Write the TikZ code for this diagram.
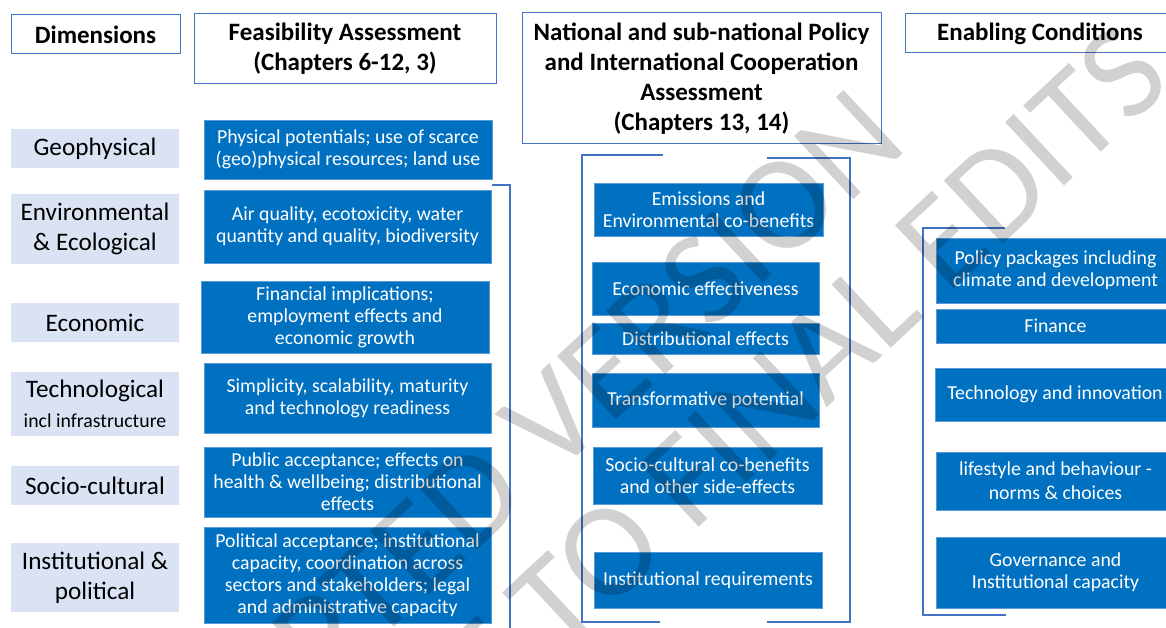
\documentclass[tikz,border=0pt]{standalone}
\usepackage{fontspec}
\setmainfont{Carlito}
\definecolor{boxblue}{RGB}{0,112,192}
\definecolor{boxedge}{RGB}{91,155,213}
\definecolor{hdrblue}{RGB}{68,114,196}
\definecolor{dimfill}{RGB}{218,227,243}
\tikzset{
  hdr/.style={draw=hdrblue, line width=1pt, fill=white, inner sep=0pt, align=center,
    font=\bfseries\fontsize{25}{30}\selectfont},
  dim/.style={fill=dimfill, inner sep=0pt, align=center, font=\fontsize{25.2}{30}\selectfont},
  bbox/.style={fill=boxblue, draw=boxedge, line width=0.8pt, text=white, inner sep=0pt,
    align=center, font=\fontsize{19.8}{22}\selectfont},
  brk/.style={draw=hdrblue, line width=2pt},
  wmark/.style={text=black, text opacity=0.18, inner sep=0pt, font=\fontsize{135}{160}\selectfont}
}
\begin{document}
\begin{tikzpicture}[x=1pt,y=-1pt]
\useasboundingbox (0,0) rectangle (1166,628);
\clip (0,0) rectangle (1166,628);
% headers
\node[hdr, minimum width=169, minimum height=39] (hDim) at (95.5,34.5) {Dimensions};
\node[hdr, minimum width=302, minimum height=70] (hFeas) at (345,49) {Feasibility Assessment\\(Chapters 6-12, 3)};
\node[hdr, minimum width=359, minimum height=131] (hNat) at (701.5,78.5) {National and sub-national Policy\\and International Cooperation\\Assessment\\(Chapters 13, 14)};
\node[hdr, minimum width=270, minimum height=39] (hEnab) at (1040,33.5) {Enabling Conditions};
% dimensions
\node[dim, minimum width=168, minimum height=39] (dGeo) at (95,148.5) {Geophysical};
\node[dim, minimum width=168, minimum height=69] (dEnv) at (95,229) {Environmental\\\& Ecological};
\node[dim, minimum width=168, minimum height=39] (dEco) at (95,322.5) {Economic};
\node[dim, minimum width=168, minimum height=64] (dTec) at (95,404) {Technological\\{\fontsize{19.8}{22}\selectfont incl infrastructure}};
\node[dim, minimum width=168, minimum height=39] (dSoc) at (95,485.5) {Socio-cultural};
\node[dim, minimum width=168, minimum height=69] (dIns) at (95,577.5) {Institutional \&\\political};
% feasibility boxes
\node[bbox, minimum width=288, minimum height=59] (f1) at (348,149.5) {Physical potentials; use of scarce\\(geo)physical resources; land use};
\node[bbox, minimum width=287, minimum height=73] (f2) at (347.5,226.5) {Air quality, ecotoxicity, water\\quantity and quality, biodiversity};
\node[bbox, minimum width=288, minimum height=72] (f3) at (345,317) {Financial implications;\\employment effects and\\economic growth};
\node[bbox, minimum width=287, minimum height=70] (f4) at (347.5,398) {Simplicity, scalability, maturity\\and technology readiness};
\node[bbox, minimum width=287, minimum height=70] (f5) at (347.5,482) {Public acceptance; effects on\\health \& wellbeing; distributional\\effects};
\node[bbox, minimum width=287, minimum height=96] (f6) at (347.5,575) {Political acceptance; institutional\\capacity, coordination across\\sectors and stakeholders; legal\\and administrative capacity};
% middle boxes
\node[bbox, minimum width=229, minimum height=53] (m1) at (708.5,209.5) {Emissions and\\Environmental co-benefits};
\node[bbox, minimum width=227, minimum height=53] (m2) at (705.5,288.5) {Economic effectiveness};
\node[bbox, minimum width=227, minimum height=31] (m3) at (705.5,338.5) {Distributional effects};
\node[bbox, minimum width=227, minimum height=54] (m4) at (705.5,400) {Transformative potential};
\node[bbox, minimum width=229, minimum height=57] (m5) at (707.5,475.5) {Socio-cultural co-benefits\\and other side-effects};
\node[bbox, minimum width=228, minimum height=56] (m6) at (708,580) {Institutional requirements};
% enabling boxes
\node[bbox, minimum width=239, minimum height=65] (e1) at (1055.5,270.5) {Policy packages including\\climate and development};
\node[bbox, minimum width=239, minimum height=34] (e2) at (1055.5,326) {Finance};
\node[bbox, minimum width=240, minimum height=53] (e3) at (1055,394.5) {Technology and innovation};
\node[bbox, minimum width=239, minimum height=58] (e4) at (1055.5,481) {lifestyle and behaviour -\\[2pt]norms \& choices};
\node[bbox, minimum width=239, minimum height=71] (e5) at (1055.5,572.5) {Governance and\\Institutional capacity};
% brackets
\draw[brk] (492,185) -- (510,185) -- (510,640);
\draw[brk] (663,155) -- (582,155) -- (582,622) -- (660,622);
\draw[brk] (767,158) -- (850,158) -- (850,622) -- (767,622);
\draw[brk] (1005,228) -- (923,228) -- (923,615) -- (1006,615);
% watermark
\begin{scope}[shift={(114,889)}, rotate=43, transform shape]
\node[wmark, anchor=base west] (wm1) at (0,0) {ACCEPTED VERSION};
\end{scope}
\begin{scope}[shift={(195.5,997)}, rotate=43, transform shape]
\node[wmark, anchor=base west] (wm2) at (0,0) {SUBJECT TO FINAL EDITS};
\end{scope}
\end{tikzpicture}
\end{document}
